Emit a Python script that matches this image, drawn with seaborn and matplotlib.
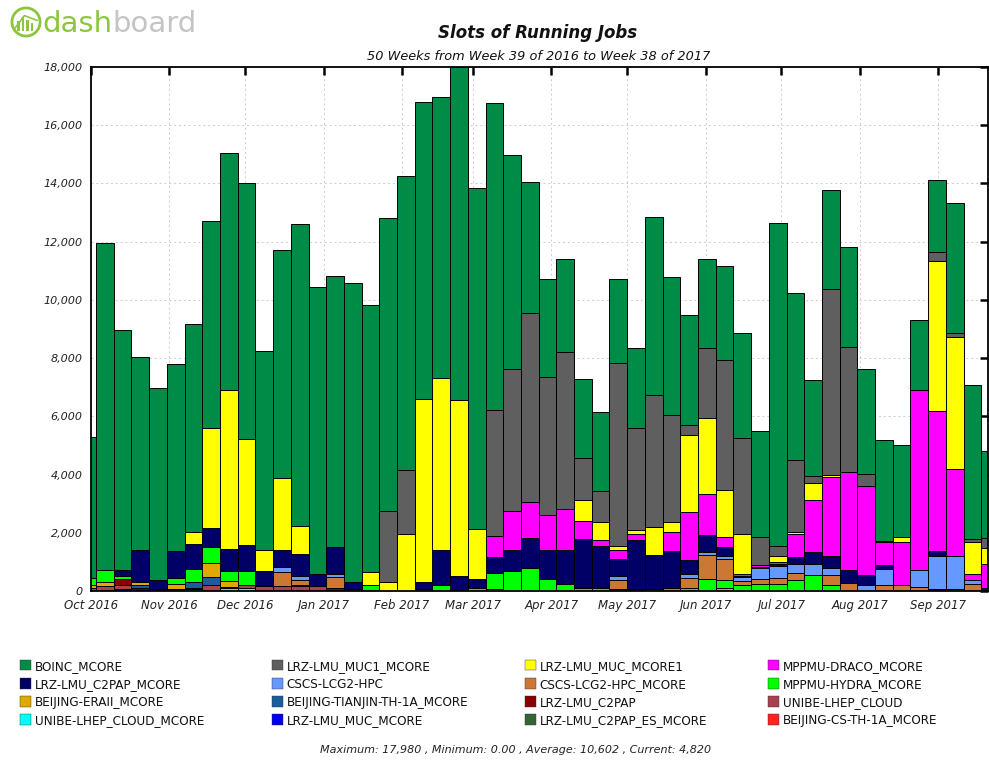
import numpy as np
import pandas as pd
import matplotlib
import matplotlib.pyplot as plt
import matplotlib.dates as mdates
from matplotlib import font_manager
from matplotlib.patches import Patch, Circle, Rectangle
from matplotlib.ticker import FuncFormatter, MultipleLocator
from matplotlib.font_manager import FontProperties
import seaborn as sns

matplotlib.use("Agg")

# seaborn theme first, then our own font settings on top of it
sns.set_theme(style="white")
plt.rcParams['font.family'] = ['DejaVu Sans']
plt.rcParams['font.style'] = 'italic'

# --- Data: slots of running jobs per week (week 39/2016 .. week 38/2017) ---
week_start = pd.date_range('2016-09-26', periods=52, freq='7D')

boinc_mcore = [4830, 11260, 8230, 6610, 6600, 6430, 7160, 7120, 8140, 8820,
               6860, 7820, 10390, 9880, 9320, 10260, 9160, 10060, 10100, 10190,
               9640, 11410, 11720, 10530, 7340, 4500, 3350, 3190, 2730, 2720,
               2880, 2750, 6100, 4720, 3770, 3060, 3240, 3630, 3650, 11090,
               5740, 3280, 3400, 3450, 3620, 3460, 3170, 2400, 2460, 4490,
               5270, 3020]
lrz_muc1_mcore = [0, 0, 0, 0, 0, 0, 0, 0, 0, 0,
                  0, 0, 0, 0, 0, 0, 0, 2440, 2190, 0,
                  0, 0, 0, 4330, 4870, 6490, 4740, 5410, 1440, 1040,
                  6270, 3490, 4550, 3690, 350, 2390, 4460, 3290, 960, 330,
                  2450, 240, 6390, 4290, 410, 40, 0, 0, 330, 140,
                  120, 320]
lrz_muc_mcore1 = [0, 0, 0, 0, 0, 0, 390, 3430, 5470, 3620,
                  705, 2470, 940, 0, 0, 0, 470, 300, 1975, 6300,
                  5900, 6045, 1705, 0, 0, 0, 0, 0, 715, 635,
                  165, 130, 940, 355, 2645, 2625, 1625, 1380, 0, 210,
                  80, 590, 60, 0, 0, 0, 155, 0, 5140, 4525,
                  1090, 555]
mppmu_draco = [0, 0, 0, 0, 0, 0, 0, 0, 0, 0,
               0, 0, 0, 0, 0, 0, 0, 0, 0, 0,
               0, 0, 0, 705, 1330, 1235, 1200, 1375, 635, 210,
               305, 225, 0, 645, 1645, 1410, 340, 50, 40, 60,
               800, 1800, 2730, 3375, 3060, 790, 1495, 6200, 4820, 3000,
               210, 830]
lrz_c2pap_mcore = [0, 0, 220, 1100, 290, 950, 880, 660, 765, 905,
                   490, 610, 765, 410, 940, 225, 0, 0, 0, 240,
                   1225, 530, 330, 565, 740, 1060, 1000, 1200, 1655, 1420,
                   575, 1690, 1165, 1265, 470, 590, 305, 40, 60, 80,
                   225, 400, 410, 435, 355, 155, 0, 0, 175, 0,
                   0, 100]
cscs_hpc = [0, 0, 0, 0, 0, 0, 0, 0, 0, 0,
            0, 155, 130, 0, 95, 0, 0, 0, 0, 0,
            0, 0, 0, 0, 0, 0, 0, 0, 0, 0,
            145, 0, 0, 0, 155, 105, 115, 140, 355, 410,
            305, 390, 235, 0, 190, 555, 0, 565, 1120, 1110,
            130, 0]
cscs_hpc_mcore = [0, 0, 0, 0, 0, 0, 0, 0, 0, 0,
                  0, 490, 170, 0, 360, 80, 0, 0, 0, 60,
                  0, 0, 0, 0, 0, 0, 0, 0, 0, 0,
                  300, 0, 0, 100, 355, 800, 730, 155, 200, 225,
                  235, 0, 355, 280, 0, 190, 190, 150, 0, 0,
                  240, 0]
mppmu_hydra = [250, 400, 80, 0, 0, 180, 440, 550, 340, 490,
               0, 0, 0, 0, 0, 0, 170, 0, 0, 0,
               200, 0, 90, 560, 680, 775, 425, 225, 120, 120,
               0, 0, 80, 0, 90, 425, 245, 190, 225, 225,
               390, 540, 190, 0, 0, 0, 0, 0, 0, 80,
               0, 0]
beijing_eraii = [100, 130, 0, 130, 0, 170, 0, 470, 200, 0,
                 0, 0, 50, 0, 0, 0, 20, 0, 0, 0,
                 0, 0, 0, 60, 0, 0, 0, 0, 0, 0,
                 0, 0, 0, 0, 0, 0, 120, 0, 0, 0,
                 0, 0, 0, 0, 0, 0, 0, 0, 0, 0,
                 0, 0]
beijing_tianjin = [0, 0, 0, 100, 0, 0, 180, 290, 0, 0,
                   0, 0, 0, 0, 0, 0, 0, 0, 0, 0,
                   0, 0, 0, 0, 0, 0, 0, 0, 0, 0,
                   0, 0, 0, 0, 0, 0, 0, 0, 0, 0,
                   0, 0, 0, 0, 0, 0, 0, 0, 0, 0,
                   0, 0]
lrz_c2pap = [0, 0, 230, 0, 80, 80, 60, 0, 0, 0,
             40, 0, 0, 0, 120, 0, 0, 0, 0, 0,
             0, 0, 0, 0, 0, 0, 0, 0, 0, 0,
             0, 60, 0, 0, 0, 0, 0, 0, 0, 0,
             0, 0, 0, 0, 0, 0, 0, 0, 70, 0,
             0, 0]
unibe_cloud = [100, 140, 110, 0, 0, 0, 0, 190, 40, 90,
               165, 165, 165, 165, 0, 0, 0, 0, 0, 0,
               0, 0, 0, 0, 0, 0, 0, 0, 0, 0,
               0, 0, 0, 0, 0, 0, 0, 0, 0, 0,
               0, 0, 0, 0, 0, 0, 0, 0, 0, 0,
               0, 0]
unibe_cloud_mcore = [0, 0, 0, 0, 0, 0, 60, 0, 100, 100,
                     0, 0, 0, 0, 0, 0, 0, 0, 0, 0,
                     0, 0, 0, 0, 0, 0, 0, 0, 0, 0,
                     0, 0, 0, 0, 0, 0, 0, 0, 0, 0,
                     0, 0, 0, 0, 0, 0, 0, 0, 0, 0,
                     0, 0]
lrz_muc_mcore = [0, 0, 80, 90, 0, 0, 0, 0, 0, 0,
                 0, 0, 0, 0, 0, 0, 0, 0, 0, 0,
                 0, 0, 0, 0, 0, 0, 0, 0, 0, 0,
                 0, 0, 0, 0, 0, 0, 0, 0, 0, 0,
                 0, 0, 0, 0, 0, 0, 0, 0, 0, 0,
                 0, 0]
lrz_c2pap_es = [0, 0, 0, 0, 0, 0, 0, 0, 0, 0,
                0, 0, 0, 0, 0, 0, 0, 0, 0, 0,
                0, 0, 0, 0, 0, 0, 0, 0, 0, 0,
                70, 0, 0, 0, 0, 0, 0, 0, 0, 0,
                0, 0, 0, 0, 0, 0, 0, 0, 0, 0,
                0, 0]
beijing_cs = [0, 40, 0, 0, 0, 0, 0, 0, 0, 0,
              0, 0, 0, 0, 0, 0, 0, 0, 0, 0,
              0, 0, 0, 0, 0, 0, 0, 0, 0, 0,
              0, 0, 0, 0, 0, 0, 0, 0, 0, 0,
              0, 0, 0, 0, 0, 0, 0, 0, 0, 0,
              0, 0]

# legend order (largest first); the stack is drawn bottom-up in reverse
site_names = ["BOINC_MCORE", "LRZ-LMU_MUC1_MCORE", "LRZ-LMU_MUC_MCORE1", "MPPMU-DRACO_MCORE",
              "LRZ-LMU_C2PAP_MCORE", "CSCS-LCG2-HPC", "CSCS-LCG2-HPC_MCORE", "MPPMU-HYDRA_MCORE",
              "BEIJING-ERAII_MCORE", "BEIJING-TIANJIN-TH-1A_MCORE", "LRZ-LMU_C2PAP", "UNIBE-LHEP_CLOUD",
              "UNIBE-LHEP_CLOUD_MCORE", "LRZ-LMU_MUC_MCORE", "LRZ-LMU_C2PAP_ES_MCORE", "BEIJING-CS-TH-1A_MCORE"]
site_values = [boinc_mcore, lrz_muc1_mcore, lrz_muc_mcore1, mppmu_draco,
               lrz_c2pap_mcore, cscs_hpc, cscs_hpc_mcore, mppmu_hydra,
               beijing_eraii, beijing_tianjin, lrz_c2pap, unibe_cloud,
               unibe_cloud_mcore, lrz_muc_mcore, lrz_c2pap_es, beijing_cs]

stats_text = "Maximum: 17,980 , Minimum: 0.00 , Average: 10,602 , Current: 4,820"

# --- Styles ---
site_colors = sns.color_palette([
    "#008c46", "#5f5f5f", "#ffff00", "#ff00ff",
    "#000066", "#6699ff", "#cc7733", "#00ff00",
    "#e0a800", "#1a5c9c", "#880000", "#a8424f",
    "#00ffff", "#0000ee", "#336633", "#ff2222"])


def narrow_legend_font():
    # the legend in the original uses a condensed face; pick one if installed
    for f in font_manager.fontManager.ttflist:
        if f.name == 'Liberation Sans Narrow' and f.style == 'normal' and f.weight in (400, 'normal', 'regular'):
            return FontProperties(fname=f.fname, size=10.5)
    for f in font_manager.fontManager.ttflist:
        if f.name == 'DejaVu Sans' and f.stretch == 'condensed' and f.style == 'normal' \
                and f.weight in (400, 'normal', 'regular'):
            return FontProperties(fname=f.fname, size=9.6)
    return FontProperties(family='Liberation Sans', style='normal', size=8.7)


W, H = 989, 762
fig = plt.figure(figsize=(W / 100, H / 100), dpi=100)
ax = fig.add_axes([91 / W, 171 / H, 897 / W, 524 / H])

bottom = np.zeros(len(week_start))
for name, vals, color in reversed(list(zip(site_names, site_values, site_colors))):
    vals = np.asarray(vals, dtype=float)
    mask = vals > 0
    if mask.any():
        ax.bar(week_start[mask], vals[mask], width=7, bottom=bottom[mask], align='edge',
               color=color, edgecolor='black', linewidth=0.7, zorder=2)
    bottom += vals

ax.set_xlim(pd.Timestamp('2016-10-01'), pd.Timestamp('2017-09-20 16:00'))
ax.set_ylim(0, 18000)
ax.yaxis.set_major_locator(MultipleLocator(2000))
ax.yaxis.set_major_formatter(FuncFormatter(lambda v, p: f"{v:,.0f}"))
ax.xaxis.set_major_locator(mdates.MonthLocator())
ax.xaxis.set_major_formatter(mdates.DateFormatter('%b %Y'))

ax.tick_params(axis='both', which='major', direction='in', length=6, width=1.8,
               color='black', top=True, right=True, labelcolor='#222222')
ax.tick_params(axis='y', labelsize=8, pad=6)
ax.tick_params(axis='x', labelsize=8.5, pad=6)
ax.grid(True, linestyle=(0, (2, 3)), color='#cccccc', linewidth=0.7, zorder=0)
ax.set_axisbelow(True)
for sp in ax.spines.values():
    sp.set_color('black')
    sp.set_linewidth(1.3)

# titles
fig.text(538 / W, 1 - 33 / H, "Slots of Running Jobs", ha='center', va='center',
         fontsize=12, fontweight='bold', color='#111111')
fig.text(539 / W, 1 - 56 / H, "50 Weeks from Week 39 of 2016 to Week 38 of 2017",
         ha='center', va='center', fontsize=9.3, color='#111111')
fig.text(516 / W, 1 - 750 / H, stats_text, ha='center', va='center', fontsize=8, color='#222222')

# legend: four separate columns, filled row by row
legend_font = narrow_legend_font()
legend_x = [20, 272, 525, 768]
for col, x0 in enumerate(legend_x):
    names = site_names[col::4]
    cols = site_colors[col::4]
    handles = [Patch(facecolor=c, edgecolor='#333333', linewidth=0.3) for c in cols]
    fig.legend(handles, names, loc='upper left', bbox_to_anchor=(x0 / W, 1 - 660 / H),
               frameon=False, prop=legend_font, handlelength=0.8, handleheight=0.8,
               handletextpad=0.3, labelspacing=0.38, borderpad=0, borderaxespad=0,
               labelcolor='#111111')

# dashboard logo
logo_green, logo_gray = "#8cc63e", "#c4c4c4"
lax = fig.add_axes([10 / W, 1 - 38 / H, 32 / W, 32 / H])
lax.set_xlim(0, 1)
lax.set_ylim(0, 1)
lax.axis('off')
lax.add_patch(Circle((0.5, 0.5), 0.44, fill=False, ec=logo_green, lw=2))
for bx, bh in [(0.28, 0.3), (0.42, 0.45), (0.56, 0.35), (0.7, 0.25)]:
    lax.add_patch(Rectangle((bx - 0.05, 0.22), 0.08, bh, color=logo_green, lw=0))
lax.plot([0.15, 0.45, 0.85], [0.3, 0.7, 0.55], color=logo_green, lw=1.2)
t1 = fig.text(42 / W, 1 - 32 / H, "dash", fontsize=21, fontstyle='normal', color=logo_green,
              va='baseline', ha='left')
ax.annotate("board", xy=(1, 0), xycoords=t1, va='bottom', ha='left', fontsize=21,
            fontstyle='normal', color=logo_gray, annotation_clip=False)

fig.savefig('out.png', dpi=100)
